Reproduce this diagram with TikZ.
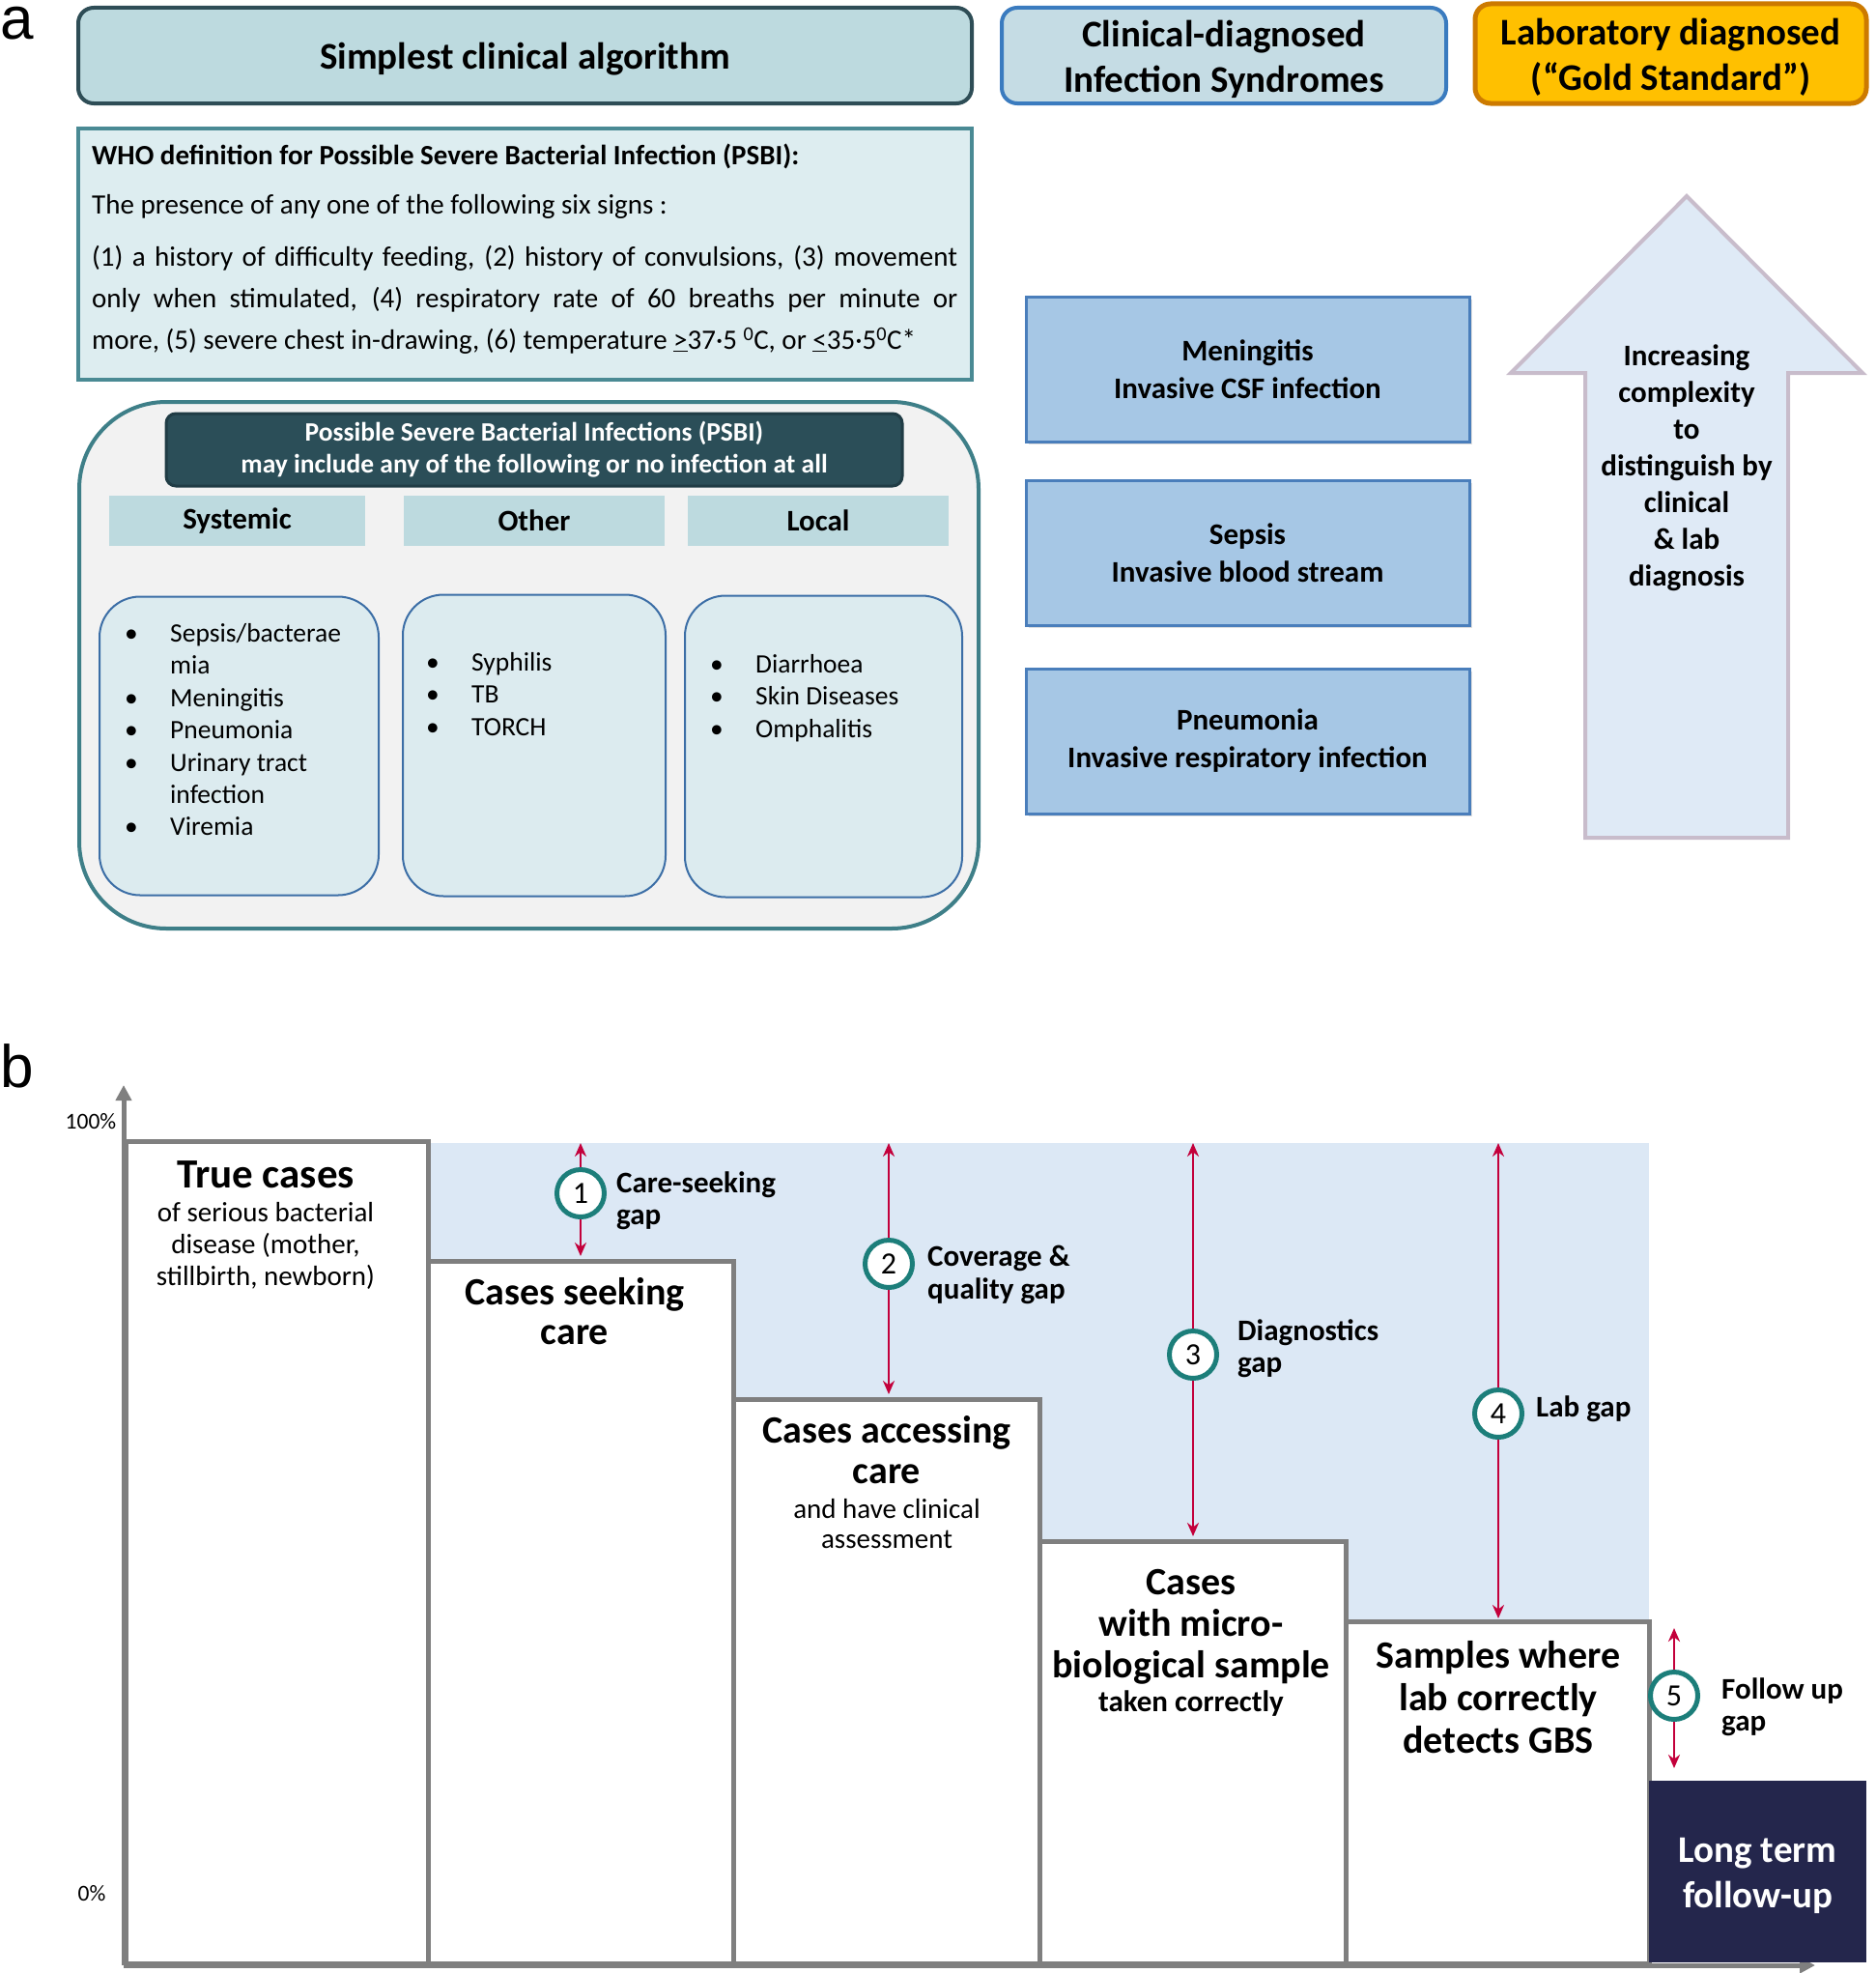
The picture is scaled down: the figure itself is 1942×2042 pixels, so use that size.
\documentclass[tikz,border=0pt]{standalone}
\usepackage{fontspec}
\setmainfont{Carlito}
\newfontfamily\panelfont{Liberation Sans}
\usetikzlibrary{arrows.meta,positioning,shadows}
\definecolor{hdrfill}{HTML}{BDDADF}
\definecolor{hdrline}{HTML}{2E4D56}
\definecolor{clinfill}{HTML}{C5DCE4}
\definecolor{clinline}{HTML}{3A7BBF}
\definecolor{goldfill}{HTML}{FFC000}
\definecolor{goldline}{HTML}{CC7A00}
\definecolor{whofill}{HTML}{DDEDF0}
\definecolor{wholine}{HTML}{4A8A94}
\definecolor{psbifill}{HTML}{F2F2F2}
\definecolor{psbiline}{HTML}{3E7F88}
\definecolor{darkhead}{HTML}{2B4E58}
\definecolor{darkline}{HTML}{203C45}
\definecolor{listfill}{HTML}{DCEBEF}
\definecolor{listline}{HTML}{3C6EA6}
\definecolor{synfill}{HTML}{A6C7E5}
\definecolor{synline}{HTML}{4A7EBB}
\definecolor{upfill}{HTML}{DFEAF6}
\definecolor{upline}{HTML}{C8BCCB}
\definecolor{gapfill}{HTML}{DCE8F5}
\definecolor{bargray}{HTML}{7F7F7F}
\definecolor{navy}{HTML}{24264C}
\definecolor{gapred}{HTML}{C3003B}
\definecolor{gapteal}{HTML}{1C7E7A}
\newcommand{\fsz}[2]{\fontsize{#1}{#2}\selectfont}
\newcommand{\bul}{\makebox[47pt][l]{\textbullet}}
\newcommand{\nobul}{\makebox[47pt]{}}
\tikzset{
	every node/.style={inner sep=0pt},
	panel/.style={anchor=base west, font=\panelfont\fsz{62}{70}},
	hdrbox/.style={draw, rounded corners=16pt, line width=4pt},
	hdrtext/.style={align=center, font=\fsz{39}{47}\bfseries},
	colhead/.style={fill=hdrfill, minimum height=52pt, font=\fsz{31}{37}\bfseries},
	listbox/.style={draw=listline, fill=listfill, line width=2pt, rounded corners=42pt},
	listtext/.style={anchor=north west, align=left, font=\fsz{27.5}{33.4}},
	synbox/.style={draw=synline, fill=synfill, line width=3pt, minimum width=459pt,
		minimum height=150pt, align=center, font=\fsz{31}{39}\bfseries,
		drop shadow={shadow xshift=3pt, shadow yshift=-3pt, opacity=0.25}},
	bar/.style={draw=bargray, fill=white, line width=5pt, anchor=south west, outer sep=0pt},
	axis/.style={draw=bargray, line width=5pt, -{Triangle[length=16pt,width=16pt]}},
	gap/.style={draw=gapred, line width=2.5pt, -{Stealth[length=14pt,width=12pt]}},
	gapno/.style={circle, draw=gapteal, fill=white, line width=5pt, minimum size=49pt,
		font=\fsz{32}{36}},
	gaplabel/.style={anchor=north west, align=left, font=\fsz{31}{33}\bfseries},
	bartitle/.style={anchor=north, align=center, font=\fsz{40}{43}\bfseries},
	barsub/.style={anchor=north, align=center, font=\fsz{29}{33}}
}

\begin{document}
\begin{tikzpicture}[x=1pt, y=-1pt]
\useasboundingbox (0,0) rectangle (1942,2042);

% panel a
\node[panel] (pa) at (0,41) {a};
\node[hdrbox, draw=hdrline, fill=hdrfill, minimum width=925pt, minimum height=99pt] (algo) at (543.5,57.5) {};
\node[hdrbox, draw=clinline, fill=clinfill, minimum width=460pt, minimum height=99pt] (clin) at (1267,57.5) {};
\node[hdrbox, draw=goldline, fill=goldfill, line width=5pt, minimum width=405pt, minimum height=103pt] (lab) at (1729.5,55.5) {};
\node[hdrtext] (algotext) at ([yshift=-4pt]algo.center) {Simplest clinical algorithm};
\node[hdrtext] (clintext) at ([yshift=-4pt]clin.center) {Clinical-diagnosed\\Infection Syndromes};
\node[hdrtext] (labtext) at ([yshift=-4pt]lab.center) {Laboratory diagnosed\\(``Gold Standard'')};

\node[draw=wholine, fill=whofill, line width=4pt, minimum width=925pt, minimum height=260pt] (who) at (543.5,263) {};
\node[anchor=north west, align=left, font=\fsz{29}{43}] (whotext) at (95,140)
	{\strut\textbf{WHO definition for Possible Severe Bacterial Infection (PSBI):}\\[8pt]
	The presence of any one of the following six signs :\\[11pt]
	\makebox[896pt][s]{(1) a history of difficulty feeding, (2) history of convulsions, (3) movement}\\
	\makebox[896pt][s]{only when stimulated, (4) respiratory rate of 60 breaths per minute or}\\
	more, (5) severe chest in-drawing, (6) temperature \underline{>}37·5 \textsuperscript{0}C, or \underline{<}35·5\textsuperscript{0}C*};

\node[draw=psbiline, fill=psbifill, line width=4pt, rounded corners=90pt, minimum width=931pt, minimum height=545pt] (psbi) at (547.5,688.5) {};
\node[draw=darkline, fill=darkhead, line width=3pt, rounded corners=10pt, minimum width=762pt, minimum height=75pt,
	text=white, align=center, font=\fsz{27.5}{33}\bfseries] (psbihead) at (553,465.5)
	{Possible Severe Bacterial Infections (PSBI)\\may include any of the following or no infection at all};
\node[colhead, minimum width=265pt] (sys) at (245.5,539) {Systemic};
\node[colhead, minimum width=270pt] (oth) at (553,539) {Other};
\node[colhead, minimum width=270pt] (loc) at (847,539) {Local};
\node[listbox, minimum width=289pt, minimum height=309pt] (sysbox) at (247.5,772) {};
\node[listbox, minimum width=272pt, minimum height=312pt] (othbox) at (553,771.5) {};
\node[listbox, minimum width=287pt, minimum height=312pt] (locbox) at (852.5,772.5) {};
\node[listtext] (syslist) at (129,641) {\strut\bul Sepsis/bacterae\\\nobul mia\\\bul Meningitis\\\bul Pneumonia\\\bul Urinary tract\\\nobul infection\\\bul Viremia};
\node[listtext] (othlist) at (441,671) {\strut\bul Syphilis\\\bul TB\\\bul TORCH};
\node[listtext] (loclist) at (735,673) {\strut\bul Diarrhoea\\\bul Skin Diseases\\\bul Omphalitis};

\node[synbox] (men) at (1291.5,382) {Meningitis\\Invasive CSF infection};
\node[synbox] (sep) at (1291.5,572) {Sepsis\\Invasive blood stream};
\node[synbox] (pne) at (1291.5,767) {Pneumonia\\Invasive respiratory infection};

\draw[draw=upline, fill=upfill, line width=4pt] (1746,203) -- (1928,386) -- (1851,386) -- (1851,867)
	-- (1641,867) -- (1641,386) -- (1564,386) -- cycle;
\node[anchor=north, align=center, font=\fsz{31}{38}\bfseries] (uptext) at (1746,352)
	{\strut Increasing\\complexity\\to\\distinguish by\\clinical\\\& lab\\diagnosis};

% panel b
\node[panel] (pb) at (0,1125) {b};
\fill[gapfill] (443,1183) rectangle (1707,1678);
\coordinate (top) at (443,1183);
\foreach \n/\xa/\xb/\yt in {1/130/443/1181, 2/443/759/1305, 3/759/1076/1448, 4/1076/1393/1595, 5/1393/1707/1678}
	\node[bar, minimum width={\xb-\xa}, minimum height={2032-\yt}] (bar\n) at (\xa,2032) {};
\coordinate (origin) at (128,2034);
\draw[axis] (origin) -- (128,1123);
\draw[axis] (origin) -- (1879,2034);
\node[bar, fill=navy, draw=none, minimum width=225pt, minimum height=188pt] (bar6) at (1707,2031) {};
\node[font=\fsz{23.5}{28}] (p100) at (94,1161) {100\%};
\node[font=\fsz{23.5}{28}] (p0) at (95,1960) {0\%};

\node[bartitle, anchor=base, font=\fsz{43}{48}\bfseries] (t1) at (275,1229) {True cases};
\node[barsub] (t1s) at (275,1241) {\strut of serious bacterial\\disease (mother,\\stillbirth, newborn)};
\node[bartitle, font=\fsz{40}{41}\bfseries] (t2) at (595,1322) {\strut Cases seeking\\care};
\node[bartitle, font=\fsz{40}{42}\bfseries] (t3) at (918,1464) {\strut Cases accessing\\care};
\node[barsub, font=\fsz{29}{31}] (t3s) at (918,1550) {\strut and have clinical\\assessment};
\node[bartitle] (t4) at (1233,1620) {\strut Cases\\with micro-\\biological sample};
\node[bartitle, anchor=base, font=\fsz{31}{36}\bfseries] (t4s) at (1233,1771) {taken correctly};
\node[bartitle, font=\fsz{40}{44}\bfseries] (t5) at (1551,1695) {\strut Samples where\\lab correctly\\detects GBS};
\node[bartitle, text=white, font=\fsz{39}{47}\bfseries] (t6) at (1819.5,1894) {\strut Long term\\follow-up};

% gaps
\foreach \n/\x/\y in {1/601/1235, 2/920/1308, 3/1235/1402, 4/1551/1463, 5/1733/1755}
	\node[gapno] (g\n) at (\x,\y) {\n};
\foreach \n/\b in {1/2, 2/3, 3/4} {
	\draw[gap] (g\n) -- (g\n |- top);
	\draw[gap, shorten >=5pt] (g\n) -- (g\n |- bar\b.north);
}
\draw[gap] (g4) -- (g4 |- top);
\draw[gap, shorten >=3pt] (g4) -- (g4 |- bar5.north);
\draw[gap, shorten >=7pt] (g5) -- (g5 |- bar5.north);
\draw[gap, shorten >=13pt] (g5) -- (g5 |- bar6.north);
\node[gaplabel] (l1) at (638,1211) {\strut Care-seeking\\gap};
\node[gaplabel, font=\fsz{31}{34}\bfseries] (l2) at (960,1286) {\strut Coverage \&\\quality gap};
\node[gaplabel] (l3) at (1281,1364) {\strut Diagnostics\\gap};
\node[gaplabel, anchor=base west] (l4) at (1590,1466) {Lab gap};
\node[gaplabel] (l5) at (1782,1735) {\strut Follow up\\gap};
\end{tikzpicture}
\end{document}
